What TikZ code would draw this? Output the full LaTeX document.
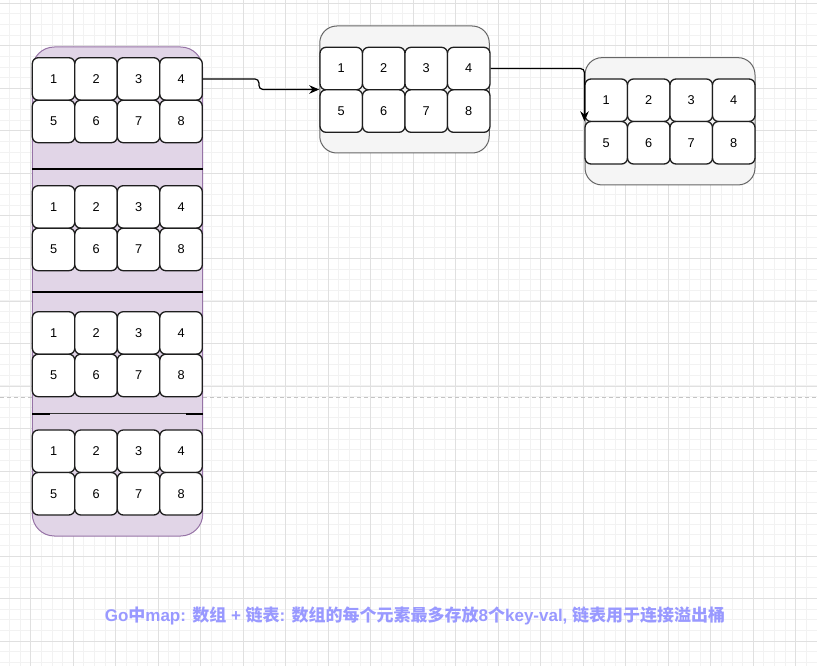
\documentclass[tikz,border=0pt]{standalone}
\usepackage{fontspec}
\setmainfont{Liberation Sans}
\newfontfamily\cjk{Noto Sans CJK SC}
\usetikzlibrary{arrows.meta}
\definecolor{purpfill}{HTML}{E1D5E7}
\definecolor{purpline}{HTML}{9673A6}
\definecolor{grayfill}{HTML}{F5F5F5}
\definecolor{grayline}{HTML}{666666}
\definecolor{cellline}{HTML}{1E1E1E}
\definecolor{gridmin}{HTML}{F2F2F2}
\definecolor{gridmaj}{HTML}{E0E0E0}
\definecolor{pagebreak}{HTML}{C4C4C4}
\definecolor{captioncol}{HTML}{9999FF}
\tikzset{
  cell/.style={draw=cellline, line width=1.3pt, fill=white, rounded corners=6pt,
    minimum width=42.5pt, minimum height=42.5pt, inner sep=0pt, font=\fontsize{12.75}{14}\selectfont},
  bucketbox/.style={draw=purpline, line width=1pt, fill=purpfill, rounded corners=22pt, inner sep=0pt},
  overflowbox/.style={draw=grayline, line width=1pt, fill=grayfill, rounded corners=17pt, inner sep=0pt},
  sepline/.style={draw=black, line width=1.1pt},
  link/.style={draw=black, line width=1.2pt, rounded corners=4pt, -{Stealth[length=10pt,width=8.5pt]}},
  gridminor/.style={draw=gridmin, line width=0.8pt},
  gridmajor/.style={draw=gridmaj, line width=1pt},
  pagebreakline/.style={draw=pagebreak, line width=1pt, dash pattern=on 4pt off 3pt},
  captionstyle/.style={text=captioncol, font=\fontsize{17}{20}\selectfont\bfseries, inner sep=0pt}
}
\newcommand\cellgroup[3]{%
  \foreach \k in {1,...,4}{%
    \node[cell] (#1-\k) at ({#2+42.5*\k-21.25},{#3+21.25}) {\k};
    \pgfmathtruncatemacro\mm{\k+4}
    \node[cell] (#1-\mm) at ({#2+42.5*\k-21.25},{#3+63.75}) {\mm};
  }}
\begin{document}
\begin{tikzpicture}[x=1pt,y=-1pt]
\useasboundingbox (0,0) rectangle (817,666);
\fill[white] (0,0) rectangle (817,666);
\begin{scope}
\clip (0,0) rectangle (817,666);
% grid
\foreach \i in {-3,...,75} \draw[gridminor] ({30.7+10.625*\i},0) -- ({30.7+10.625*\i},666);
\foreach \j in {-5,...,60} \draw[gridminor] (0,{45.7+10.63*\j}) -- (817,{45.7+10.63*\j});
\foreach \i in {-1,...,19} \draw[gridmajor] ({30.7+42.5*\i},0) -- ({30.7+42.5*\i},666);
\foreach \j in {-2,...,15} \draw[gridmajor] (0,{45.7+42.55*\j}) -- (817,{45.7+42.55*\j});
\draw[pagebreakline] (0,397) -- (817,397);
\end{scope}
% containers
\node[bucketbox, minimum width=170.4pt, minimum height=489pt] (L) at (117.5,291.5) {};
\node[overflowbox, minimum width=169.5pt, minimum height=127pt] (M) at (404.5,89.5) {};
\node[overflowbox, minimum width=170pt, minimum height=127.3pt] (R) at (670,121.3) {};
% separators inside bucket array
\draw[sepline] (32.3,169) -- (202.7,169);
\draw[sepline] (32.3,292) -- (202.7,292);
\draw[sepline, draw=black!80] (32.3,413.7) -- (202.7,413.7);
\draw[sepline, line width=1.7pt] (32.3,413.7) -- (50,413.7);
\draw[sepline, line width=1.7pt] (186,413.7) -- (202.7,413.7);
% cells
\cellgroup{A}{32.3}{57.7}
\cellgroup{B}{32.3}{185.7}
\cellgroup{C}{32.3}{311.7}
\cellgroup{D}{32.3}{430}
\cellgroup{M}{320}{47.3}
\cellgroup{N}{585}{79}
% links
\draw[link] (A-4.east) -- ++(56,0) |- (M.west);
\draw[link] (M-4.east) -| (R.west);
% caption
\node[captionstyle] (cap) at (415,616) {Go{\cjk 中}map: {\cjk 数组} + {\cjk 链表}: {\cjk 数组的每个元素最多存放}8{\cjk 个}key-val, {\cjk 链表用于连接溢出桶}};
\end{tikzpicture}
\end{document}
